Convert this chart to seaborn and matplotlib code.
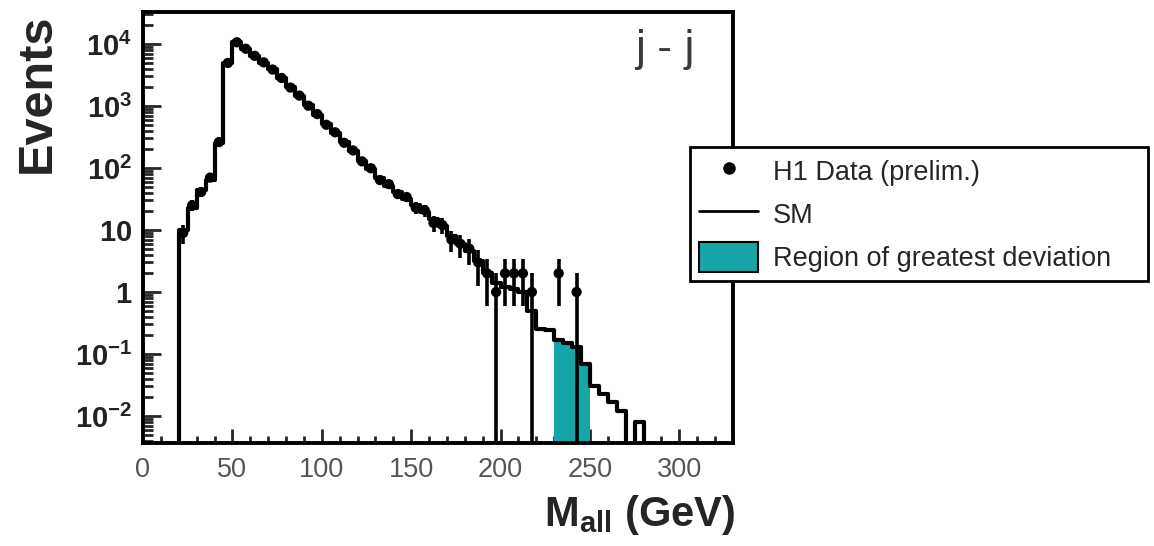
import numpy as np
import pandas as pd
import matplotlib
matplotlib.use("Agg")
import matplotlib.pyplot as plt
import seaborn as sns
from matplotlib.ticker import FixedLocator, LogLocator, NullFormatter, MultipleLocator
from matplotlib.lines import Line2D
from matplotlib.patches import Patch

# ---------------- data ----------------
# 5 GeV bins, lower edges 15 ... 280 (first and last bins empty)
bin_width = 5
bin_first = 15
sm_prediction = [
    0,                                   # 15-20
    10, 23, 44, 65, 250, 5000, 10700,    # 20-55
    8300, 6500, 5000, 3900, 2800,        # 55-80
    2000, 1450, 1020, 725, 510,          # 80-105
    370, 263, 186, 132, 95,              # 105-130
    68, 52, 41, 32, 25,                  # 130-155
    19.5, 15, 11.7, 8.0, 6.0,            # 155-180
    4.6, 3.2, 2.0, 1.4, 1.2,             # 180-205
    1.1, 1.0, 0.5, 0.25, 0.24,           # 205-230
    0.17, 0.15, 0.13, 0.07, 0.03,        # 230-255
    0.023, 0.017, 0.012, 0.0, 0.008,     # 255-280
    0,                                   # 280-285
]
h1_data = [
    0,
    9, 25, 41, 70, 262, 4950, 10650,
    8380, 6440, 5060, 3870, 2830,
    1980, 1470, 1010, 740, 498,
    376, 255, 192, 128, 99,
    64, 55, 38, 34, 23,
    21, 13, 12, 7, 6,
    5, 3, 2, 1, 2,
    2, 2, 1, 0, 0,
    2, 0, 1, 0, 0,
    0, 0, 0, 0, 0,
    0,
]
deviation_range = (230, 250)

x_ticks = [0, 50, 100, 150, 200, 250, 300]
y_ticks = [1e-2, 1e-1, 1, 10, 1e2, 1e3, 1e4]
y_ticklabels = [r"$\mathbf{10^{-2}}$", r"$\mathbf{10^{-1}}$", r"$\mathbf{1}$",
                r"$\mathbf{10}$", r"$\mathbf{10^{2}}$", r"$\mathbf{10^{3}}$",
                r"$\mathbf{10^{4}}$"]

teal = "#16A6A8"

# ---------------- styling ----------------
sns.set_theme(style="white")
plt.rcParams["font.family"] = ["Liberation Sans", "DejaVu Sans"]
plt.rcParams["mathtext.fontset"] = "custom"
plt.rcParams["mathtext.rm"] = "Liberation Sans"
plt.rcParams["mathtext.bf"] = "Liberation Sans:bold"
plt.rcParams["mathtext.it"] = "Liberation Sans:italic"

n_bins = len(sm_prediction)
edges = [float(bin_first + bin_width * i) for i in range(n_bins + 1)]
centers = [e + bin_width / 2 for e in edges[:-1]]
df = pd.DataFrame({"mass": centers, "sm": sm_prediction, "data": h1_data})

fig = plt.figure(figsize=(11.54, 5.46), dpi=100)
ax = fig.add_axes([143 / 1154, 1 - 443 / 546, 590 / 1154, 431 / 546])
ax.set_yscale("log")

# shaded region of greatest deviation
sub = df[(df.mass > deviation_range[0]) & (df.mass < deviation_range[1])]
shade_edges = [e for e in edges if deviation_range[0] <= e <= deviation_range[1]]
sns.histplot(data=sub, x="mass", weights="sm", bins=shade_edges, element="step",
             fill=True, color=teal, alpha=1, linewidth=0, ax=ax, zorder=1)

# SM prediction histogram
sns.histplot(data=df, x="mass", weights="sm", bins=edges, element="step",
             fill=False, color="black", linewidth=3.0, ax=ax, zorder=2)

# data points with errors
d = df[df.data > 0]
ax.errorbar(d.mass, d.data, yerr=np.sqrt(d.data), fmt="none", ecolor="black",
            elinewidth=2.6, capsize=0, zorder=4)
sns.scatterplot(data=d, x="mass", y="data", color="black", s=55,
                edgecolor="none", ax=ax, zorder=5, legend=False)

# axes
ax.set_xlim(0, 330)
ax.set_ylim(10 ** -2.435, 10 ** 4.516)
ax.set_xticks(x_ticks)
ax.set_xticklabels([str(t) for t in x_ticks])
ax.xaxis.set_minor_locator(MultipleLocator(10))
ax.set_yticks(y_ticks)
ax.set_yticklabels(y_ticklabels)
ax.yaxis.set_minor_locator(LogLocator(base=10, subs=range(2, 10), numticks=20))
ax.yaxis.set_minor_formatter(NullFormatter())
ax.tick_params(axis="x", which="major", direction="in", length=10, width=2,
               bottom=True, top=False, labelsize=19.5, labelcolor="#555555", pad=10)
ax.tick_params(axis="x", which="minor", direction="in", length=5, width=2,
               bottom=True, top=False)
ax.tick_params(axis="y", which="major", direction="in", length=13, width=2,
               left=True, right=False, labelsize=21, labelcolor="#222222", pad=8)
ax.tick_params(axis="y", which="minor", direction="in", length=7, width=2,
               left=True, right=False)
for s in ax.spines.values():
    s.set_linewidth(2.8)
    s.set_color("black")
ax.set_xlabel("")
ax.set_ylabel("")

fig.text(37 / 1154, 1 - 93 / 546, "Events", rotation=90, ha="center", va="center",
         fontsize=35, fontweight="bold", color="#252525")
fig.text(735 / 1154, 1 - 515 / 546, r"M$_{\mathbf{all}}$ (GeV)", ha="right",
         va="center", fontsize=30, fontweight="bold", color="#252525")
ax.text(0.885, 0.912, "j - j", transform=ax.transAxes, ha="center", va="center",
        fontsize=32, color="#3a3a3a")

handles = [
    Line2D([], [], marker="o", color="black", linestyle="none", markersize=8),
    Line2D([], [], color="black", linewidth=2),
    Patch(facecolor=teal, edgecolor="black", linewidth=1.5),
]
labels = ["H1 Data (prelim.)", "SM", "Region of greatest deviation"]
leg = fig.legend(handles, labels, loc="upper left",
                 bbox_to_anchor=(690 / 1154, 1 - 147 / 546, 458 / 1154, 0),
                 mode="expand", fontsize=19.5, frameon=True, fancybox=False,
                 framealpha=1, edgecolor="black", handlelength=2.15,
                 handleheight=1.3, handletextpad=0.55, labelspacing=0.48,
                 borderpad=0.35, borderaxespad=0)
leg.get_frame().set_linewidth(2)
leg.set_zorder(10)

fig.savefig("out.png", dpi=100)
